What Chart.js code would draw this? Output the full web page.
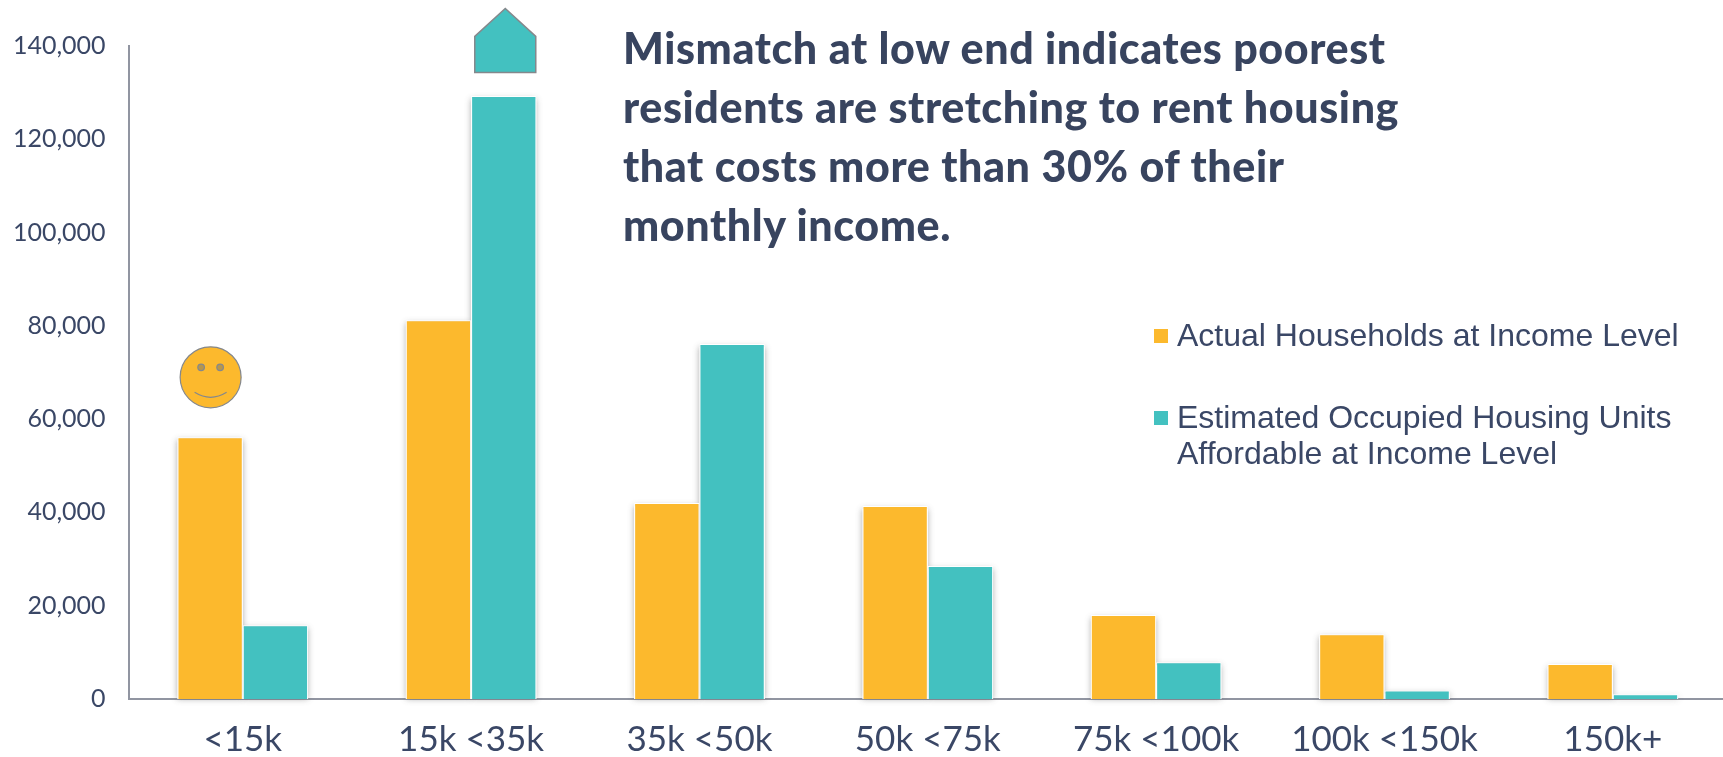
<!DOCTYPE html>
<html>
<head>
<meta charset="utf-8">
<script src="https://cdn.jsdelivr.net/npm/chart.js@4"></script>
<style>
html,body{margin:0;padding:0;background:#fff;width:1723px;height:757px;overflow:hidden;position:relative}
canvas{position:absolute;left:0;top:0}
#headline{position:absolute;left:623px;top:18px;font:900 43px/59px Lato,sans-serif;color:#38445f;white-space:nowrap;letter-spacing:.6px}
.leg{position:absolute;left:1177px;font:32px/36px "Liberation Sans",Arial,sans-serif;color:#3a4766;white-space:nowrap}
.sw{position:absolute;left:1154px;width:14px;height:14px}
</style>
</head>
<body>
<canvas id="c" width="1727" height="757"></canvas>
<div id="headline">Mismatch at low end indicates poorest<br>residents are stretching to rent housing<br>that costs more than 30% of their<br>monthly income.</div>
<div class="sw" style="top:329px;background:#fcb92d"></div>
<div class="leg" style="top:317px">Actual Households at Income Level</div>
<div class="sw" style="top:411px;background:#43c1c0"></div>
<div class="leg" style="top:399px">Estimated Occupied Housing Units<br>Affordable at Income Level</div>
<script>
const categories = ['<15k','15k <35k','35k <50k','50k <75k','75k <100k','100k <150k','150k+'];
const households = [56100,81200,42000,41400,18000,13900,7500];
const housingUnits = [15800,129300,76100,28500,7900,1800,1000];
const seriesNames = ['Actual Households at Income Level','Estimated Occupied Housing Units Affordable at Income Level'];
const ORANGE='#fcb92d', TEAL='#43c1c0', INK='#3a4766', AXIS='#9195a1';

const shadow = {
  id:'barShadow',
  beforeDatasetsDraw(ch){
    const x=ch.ctx;
    x.save();
    x.shadowColor='rgba(80,80,80,.45)';x.shadowBlur=6;x.fillStyle='#fff';
    ch.data.datasets.forEach((d,i)=>{
      ch.getDatasetMeta(i).data.forEach(b=>{
        x.fillRect(b.x-b.width/2,b.y+3,b.width,b.base-b.y-3);
      });
    });
    x.restore();
  }
};
const icons = {
  id:'icons',
  afterDatasetsDraw(ch){
    const x=ch.ctx;
    const o=ch.getDatasetMeta(0).data[0], t=ch.getDatasetMeta(1).data[1];
    x.save();
    x.strokeStyle='#85888c';x.lineWidth=1.2;
    // smiley above the first orange bar
    const cx=o.x+0.5, cy=o.y-60;
    x.fillStyle=ORANGE;x.beginPath();x.ellipse(cx,cy,30.5,30.5,0,0,Math.PI*2);x.fill();x.stroke();
    x.fillStyle='#b8964a';
    [-9.5,9.5].forEach(d=>{x.beginPath();x.arc(cx+d,cy-10,3.3,0,Math.PI*2);x.fill();x.stroke();});
    x.beginPath();x.moveTo(cx-16,cy+15);x.quadraticCurveTo(cx,cy+25,cx+16,cy+15);x.stroke();
    // house above the tallest teal bar
    const hx=t.x+1.5, b=t.y-23.5;
    x.fillStyle=TEAL;x.lineWidth=1.5;x.beginPath();
    x.moveTo(hx-30.5,b);x.lineTo(hx+30.5,b);x.lineTo(hx+30.5,b-36);x.lineTo(hx,b-64);x.lineTo(hx-30.5,b-36);x.closePath();x.fill();x.stroke();
    x.restore();
  }
};

new Chart(document.getElementById('c'),{
  type:'bar',
  data:{labels:categories,datasets:[
    {label:seriesNames[0],data:households,backgroundColor:ORANGE,borderColor:'#fff',borderWidth:{top:1,left:1,right:1,bottom:0},barPercentage:1,categoryPercentage:.572},
    {label:seriesNames[1],data:housingUnits,backgroundColor:TEAL,borderColor:'#fff',borderWidth:{top:1,left:1,right:1,bottom:0},barPercentage:1,categoryPercentage:.572}
  ]},
  options:{
    responsive:false,animation:false,
    layout:{padding:{top:46,left:0,right:0,bottom:0}},
    plugins:{legend:{display:false},title:{display:false},tooltip:{enabled:false}},
    scales:{
      x:{
        afterFit(s){s.height=58;},
        grid:{display:false,drawTicks:false},
        border:{color:AXIS,width:2},
        ticks:{color:INK,font:{family:'Lato',size:35},padding:20,maxRotation:0,autoSkip:false}
      },
      y:{
        min:0,max:140000,
        afterFit(s){s.width=128.6;},
        grid:{display:false,drawTicks:false},
        border:{color:AXIS,width:2},
        ticks:{stepSize:20000,color:INK,font:{family:'Lato',size:25},padding:23}
      }
    }
  },
  plugins:[shadow,icons]
});
</script>
</body>
</html>
